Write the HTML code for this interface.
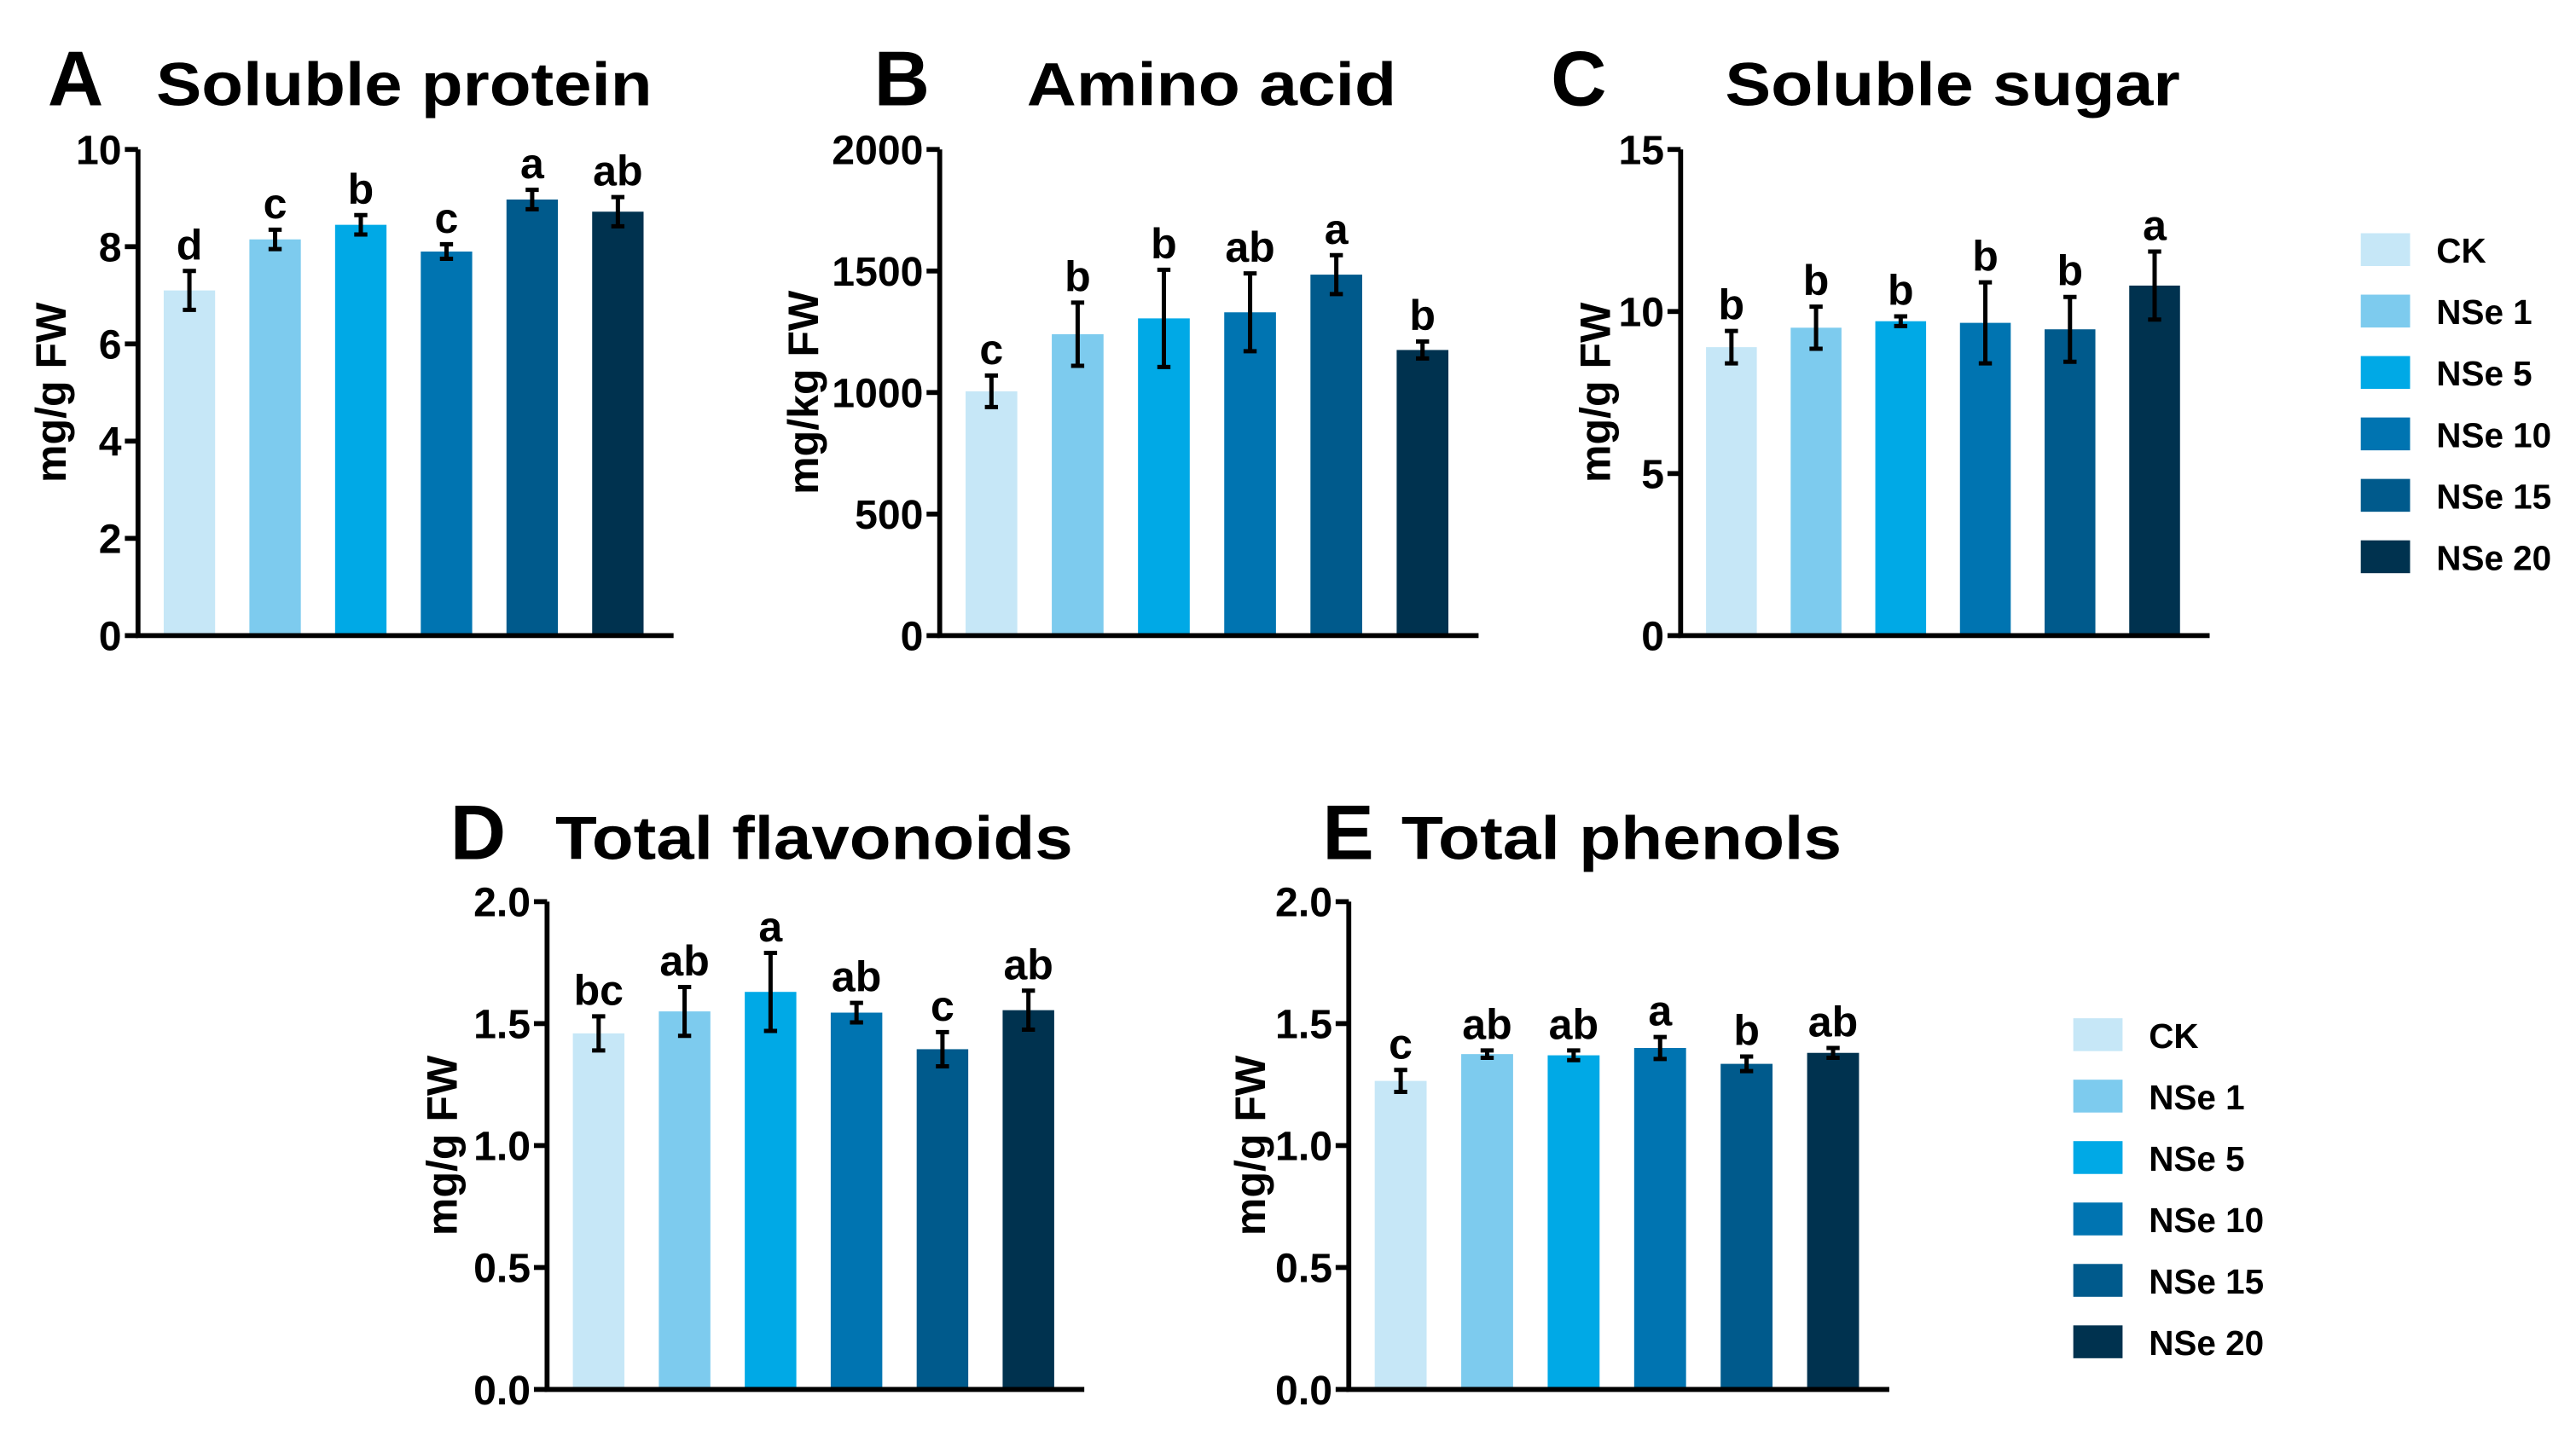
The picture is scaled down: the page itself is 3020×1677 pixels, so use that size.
<!DOCTYPE html>
<html><head><meta charset="utf-8"><style>
html,body{margin:0;padding:0;background:#fff;}
svg{display:block;font-family:"Liberation Sans",Arial,sans-serif;font-weight:bold;}
</style></head><body>
<svg id="fig" width="3020" height="1677" viewBox="0 0 1568 870.7" preserveAspectRatio="none" xmlns="http://www.w3.org/2000/svg"></svg>
<script>
const groups = ["CK","NSe 1","NSe 5","NSe 10","NSe 15","NSe 20"];
const colors = ["#c6e7f7","#7dcbee","#00a9e6","#0074b1","#005a8c","#00324f"];
const proteinVals = [7.1,8.15,8.45,7.9,8.97,8.72];
const proteinErr = [0.4,0.2,0.2,0.15,0.2,0.3];
const proteinLetters = ["d","c","b","c","a","ab"];
const aminoVals = [1005,1240,1305,1330,1485,1175];
const aminoErr = [65,130,200,160,80,35];
const aminoLetters = ["c","b","b","ab","a","b"];
const sugarVals = [8.9,9.5,9.7,9.65,9.45,10.8];
const sugarErr = [0.5,0.65,0.15,1.25,1.0,1.05];
const sugarLetters = ["b","b","b","b","b","a"];
const flavVals = [1.46,1.55,1.63,1.545,1.395,1.555];
const flavErr = [0.07,0.1,0.16,0.04,0.07,0.08];
const flavLetters = ["bc","ab","a","ab","c","ab"];
const phenVals = [1.265,1.375,1.37,1.4,1.335,1.38];
const phenErr = [0.045,0.015,0.02,0.045,0.03,0.02];
const phenLetters = ["c","ab","ab","a","b","ab"];
const proteinTicks = [0,2,4,6,8,10];
const aminoTicks = [0,500,1000,1500,2000];
const sugarTicks = [0,5,10,15];
const phenTicks = ["0.0","0.5","1.0","1.5","2.0"];

const NS="http://www.w3.org/2000/svg";
const svg=document.getElementById('fig');
function mk(tag,attrs,parent,text){const e=document.createElementNS(NS,tag);for(const k in attrs)e.setAttribute(k,attrs[k]);if(text!==undefined)e.textContent=text;(parent||svg).appendChild(e);return e;}

function panel(o){
  const g=mk('g',{});
  
  
  const L=mk('text',{x:o.lx,y:o.ty,'font-size':47},g,o.letter);
  
  
  const T=mk('text',{x:o.tx,y:o.ty,'font-size':37,textLength:o.tw,lengthAdjust:'spacingAndGlyphs'},g,o.title);
  
  
  const max=o.ticks[o.ticks.length-1]*1;
  const y=v=>o.y0-(v/max)*(o.y0-o.y1);
  const step=(o.xe-o.ax)/6.25;
  const cx=i=>o.ax+step*0.6+step*i;
  const bw=step*0.6;
  o.vals.forEach((v,i)=>{
    const r=mk('rect',{x:cx(i)-bw/2,y:y(v),width:bw,height:o.y0-y(v),fill:colors[i]},g);
    
    
    const e=o.err[i],top=y(v+e),bot=y(v-e);
    const eb=mk('path',{d:`M${cx(i)},${top}V${bot}M${cx(i)-4},${top}H${cx(i)+4}M${cx(i)-4},${bot}H${cx(i)+4}`,stroke:'#000','stroke-width':2.6,fill:'none'},g);
    
    
    const t=mk('text',{x:cx(i),y:top-7,'font-size':26,'text-anchor':'middle'},g,o.letters[i]);
    
    
  });
  const ax=mk('path',{d:`M${o.ax},${o.y1}V${o.y0}H${o.xe}`,stroke:'#000','stroke-width':3,fill:'none'},g);
  
  
  o.ticks.forEach(tk=>{
    const v=tk*1;
    mk('line',{x1:o.ax-8,x2:o.ax,y1:y(v),y2:y(v),stroke:'#000','stroke-width':3},g);
    const tl=mk('text',{x:o.ax-10,y:y(v)+9,'font-size':25,'text-anchor':'end'},g,String(tk));
    
    
  });
  const yt=mk('text',{x:0,y:0,'font-size':26,'text-anchor':'middle',transform:`translate(${o.ytx},${(o.y0+o.y1)/2}) rotate(-90)`},g,o.ylab);
  
  
}
function legend(x,y0,dy,name){
  const g=mk('g',{});
  
  
  groups.forEach((n,i)=>{
    const r=mk('rect',{x:x,y:y0+dy*i-10,width:30,height:20,fill:colors[i]},g);
    
    
    const t=mk('text',{x:x+46,y:y0+dy*i+8,'font-size':21},g,n);
    
    
  });
}
panel({name:'panel-a',letter:'A',lx:29,title:'Soluble protein',tx:95,tw:302,ty:64,ax:84,xe:410,y0:387,y1:91,ticks:proteinTicks,vals:proteinVals,err:proteinErr,letters:proteinLetters,ylab:'mg/g FW',ytx:40});
panel({name:'panel-b',letter:'B',lx:532,title:'Amino acid',tx:625,tw:225,ty:64,ax:572,xe:900,y0:387,y1:91,ticks:aminoTicks,vals:aminoVals,err:aminoErr,letters:aminoLetters,ylab:'mg/kg FW',ytx:498});
panel({name:'panel-c',letter:'C',lx:944,title:'Soluble sugar',tx:1050,tw:277,ty:64,ax:1023,xe:1345,y0:387,y1:91,ticks:sugarTicks,vals:sugarVals,err:sugarErr,letters:sugarLetters,ylab:'mg/g FW',ytx:980});
panel({name:'panel-d',letter:'D',lx:274,title:'Total flavonoids',tx:338,tw:315,ty:523,ax:333,xe:660,y0:846,y1:549,ticks:phenTicks,vals:flavVals,err:flavErr,letters:flavLetters,ylab:'mg/g FW',ytx:278});
panel({name:'panel-e',letter:'E',lx:805,title:'Total phenols',tx:853,tw:268,ty:523,ax:821,xe:1150,y0:846,y1:549,ticks:phenTicks,vals:phenVals,err:phenErr,letters:phenLetters,ylab:'mg/g FW',ytx:770});
legend(1437,152,37.4,'legend-top');
legend(1262,630,37.4,'legend-bottom');
</script>
</body></html>
